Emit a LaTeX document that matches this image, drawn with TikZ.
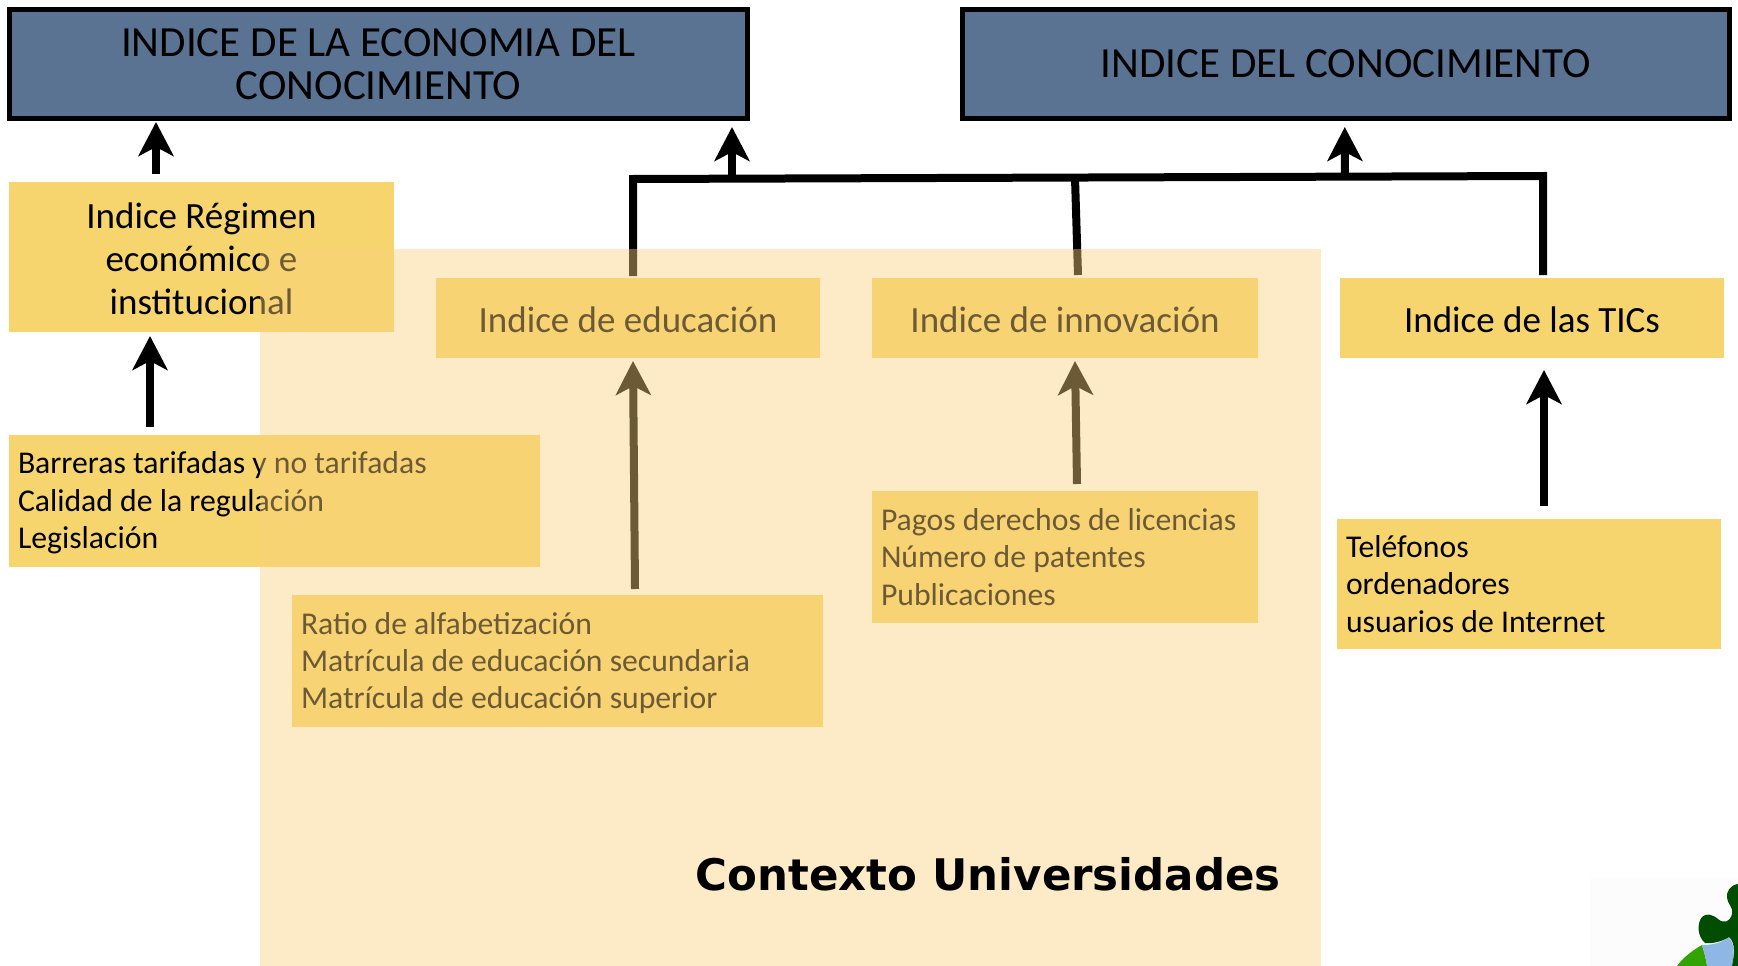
\documentclass[tikz,border=0pt]{standalone}
\usepackage{fontspec}
\usetikzlibrary{arrows.meta,positioning}
\setmainfont{Carlito}
\newfontfamily\ctxfont{DejaVu Sans}
\definecolor{slateblue}{RGB}{90,115,147}
\definecolor{noteyellow}{RGB}{246,213,110}
\definecolor{ctxover}{RGB}{250,210,124}
\tikzset{
  x=1pt,y=-1pt,
  titlebox/.style={draw=black,line width=5pt,fill=slateblue,outer sep=0pt,inner sep=0pt,align=center,font=\fontsize{43}{43}\selectfont,text=black},
  headbox/.style={fill=noteyellow,outer sep=0pt,inner sep=0pt,align=center,font=\fontsize{37}{43}\selectfont},
  listbox/.style={fill=noteyellow,outer sep=0pt,inner xsep=9pt,inner ysep=0pt,align=flush left,font=\fontsize{31.7}{37.4}\selectfont},
  upArrow/.style={line width=8pt,black,-{Stealth[length=34pt,width=35pt,inset=9pt]}},
  busline/.style={line width=8pt,black,line cap=butt,line join=miter},
}
\newcommand{\dn}[1]{\raisebox{-2pt}[\height][\depth]{#1}}
\newcommand{\boxat}[7]{% style,name,x0,y0,x1,y1,text
  \pgfmathsetmacro{\bw}{#5-#3}\pgfmathsetmacro{\bh}{#6-#4}
  \node[#1,minimum width=\bw pt,minimum height=\bh pt,anchor=north west] (#2) at (#3,#4) {#7};}
\newcommand{\listat}[6]{% name,x0,y0,x1,y1,text
  \pgfmathsetmacro{\bw}{#4-#2}\pgfmathsetmacro{\bh}{#5-#3}\pgfmathsetmacro{\tw}{#4-#2-18}
  \node[listbox,text width=\tw pt,minimum width=\bw pt,minimum height=\bh pt,anchor=north west] (#1) at (#2,#3) {#6};}
\begin{document}
\begin{tikzpicture}
\useasboundingbox (0,0) rectangle (1738,966);
\fill[white] (0,0) rectangle (1738,966);
% corner image
\fill[black!1] (1590,878) rectangle (1738,966);
\fill[green!55!black!80!yellow] (1702,945) .. controls (1690,952) and (1683,958) .. (1677,966) -- (1707,966) .. controls (1706,958) and (1704,952) .. (1702,945) -- cycle;
\fill[cyan!60!blue!45] (1702,945) .. controls (1712,945) and (1722,943) .. (1728,937) .. controls (1735,942) and (1734,955) .. (1732,966) -- (1707,966) .. controls (1706,958) and (1704,952) .. (1702,945) -- cycle;
\fill[green!30!black] (1738,884) .. controls (1730,885) and (1726,892) .. (1727,898) .. controls (1728,905) and (1734,908) .. (1732,914) .. controls (1730,922) and (1724,924) .. (1718,919) .. controls (1712,914) and (1706,913) .. (1702,917) .. controls (1697,923) and (1697,936) .. (1705,943) .. controls (1713,944) and (1723,941) .. (1729,937) .. controls (1736,943) and (1734,956) .. (1732,966) -- (1738,966) -- cycle;
% title boxes
\boxat{titlebox}{econ}{9.5}{9.5}{747.5}{118.5}{INDICE DE LA ECONOMIA DEL\\CONOCIMIENTO}
\boxat{titlebox}{cono}{962.5}{9.5}{1729}{118.5}{INDICE DEL CONOCIMIENTO}
% yellow boxes
\boxat{headbox}{regimen}{9}{182}{394}{332}{\dn{Indice Régimen}\\\dn{económico e}\\\dn{institucional}}
\boxat{headbox}{educ}{436}{278}{820}{358}{\dn{Indice de educación}}
\boxat{headbox}{innov}{872}{278}{1258}{358}{\dn{Indice de innovación}}
\boxat{headbox}{tics}{1340}{278}{1724}{358}{\dn{Indice de las TICs}}
\listat{barreras}{9}{435}{540}{567}{\dn{Barreras tarifadas y no tarifadas}\\\dn{Calidad de la regulación}\\\dn{Legislación}}
\listat{ratio}{292}{595}{823}{727}{\dn{Ratio de alfabetización}\\\dn{Matrícula de educación secundaria}\\\dn{Matrícula de educación superior}}
\listat{pagos}{872}{491}{1258}{623}{Pagos derechos de licencias\\Número de patentes\\Publicaciones}
\listat{telef}{1337}{519}{1721}{649}{Teléfonos\\ordenadores\\usuarios de Internet}
% bus
\coordinate (busL) at (633,179);
\coordinate (busM) at (1075,178);
\coordinate (busR) at (1543,176);
\coordinate (tapE) at (732,179);
\coordinate (tapC) at (1345,177);
\draw[busline] ([shift={(5,-2)}]educ.north) -- (busL) -- (busR) -- ([shift={(11,-3)}]tics.north);
\draw[busline] ([shift={(3,-3)}]innov.north -| busM) -- (busM);
% arrows
\draw[upArrow] (tapE) -- ([shift={(353.5,8.5)}]econ.south);
\draw[upArrow] (tapC) -- ([shift={(-1,8.5)}]cono.south);
\draw[upArrow] ([shift={(-45.5,-8)}]regimen.north) -- ([shift={(-45.5,3.5)}]econ.south -| regimen.north);
\draw[upArrow] ([shift={(-124.5,-8)}]barreras.north) -- ([shift={(-51.5,4)}]regimen.south);
\draw[upArrow] ([shift={(77.5,-6)}]ratio.north) -- ([shift={(5,3)}]educ.south);
\draw[upArrow] ([shift={(12,-7)}]pagos.north) -- ([shift={(10,3)}]innov.south);
\draw[upArrow] ([shift={(15,-13)}]telef.north) -- ([shift={(12,12)}]tics.south);
% translucent context panel on top
\fill[ctxover,fill opacity=.43] (260,249) rectangle (1321,966);
\node[anchor=base east,font=\ctxfont\bfseries\fontsize{43.5}{50}\selectfont,inner sep=0pt] (ctxlabel) at (1281,890) {Contexto Universidades};
\end{tikzpicture}
\end{document}
